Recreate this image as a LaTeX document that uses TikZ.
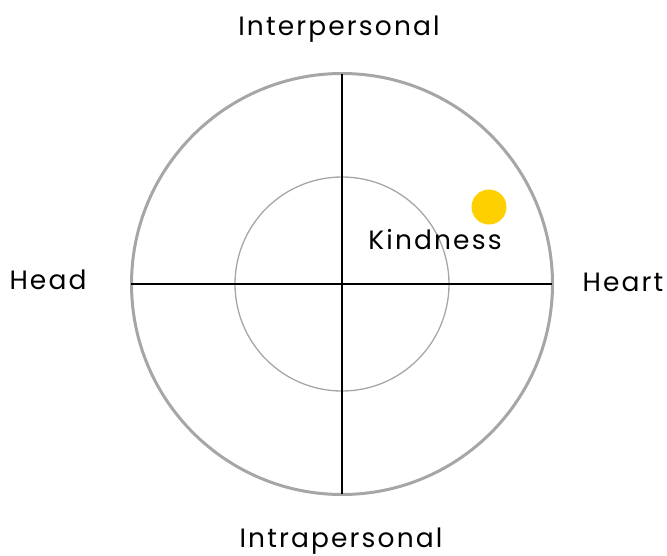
\documentclass[tikz,border=0pt]{standalone}
\usepackage{fontspec}
\setmainfont[LetterSpace=8]{Poppins}
\definecolor{ringgray}{HTML}{A6A6A6}
\definecolor{dotyellow}{HTML}{FFD000}
\tikzset{
  lbl/.style={font=\fontsize{26.5}{30}\selectfont, text=black, inner sep=0pt, anchor=base},
  axis/.style={draw=black, line width=1.5pt},
  outerring/.style={draw=ringgray, line width=3pt},
  innerring/.style={draw=ringgray, line width=1.3pt},
}
\begin{document}
\begin{tikzpicture}[x=1pt,y=-1pt]
\useasboundingbox (0,0) rectangle (667,555);
\coordinate (c) at (342,284);
\draw[outerring] (c) circle[radius=210.5];
\draw[innerring] (c) circle[radius=107];
\coordinate (l) at (131,284);
\coordinate (r) at (552,284);
\coordinate (t) at (342,74);
\coordinate (b) at (342,494);
\draw[axis] (l) -- (r);
\draw[axis] (t) -- (b);
\node[circle, fill=dotyellow, minimum size=35pt, inner sep=0pt] (dot) at (489,207) {};
\node[lbl] (kind) at (435,249) {Kindness};
\node[lbl] (inter) at (339,35) {Interpersonal};
\node[lbl] (intra) at (341,547) {Intrapersonal};
\node[lbl] (head) at (48,289) {Head};
\node[lbl] (heart) at (623,291) {Heart};
\end{tikzpicture}
\end{document}
